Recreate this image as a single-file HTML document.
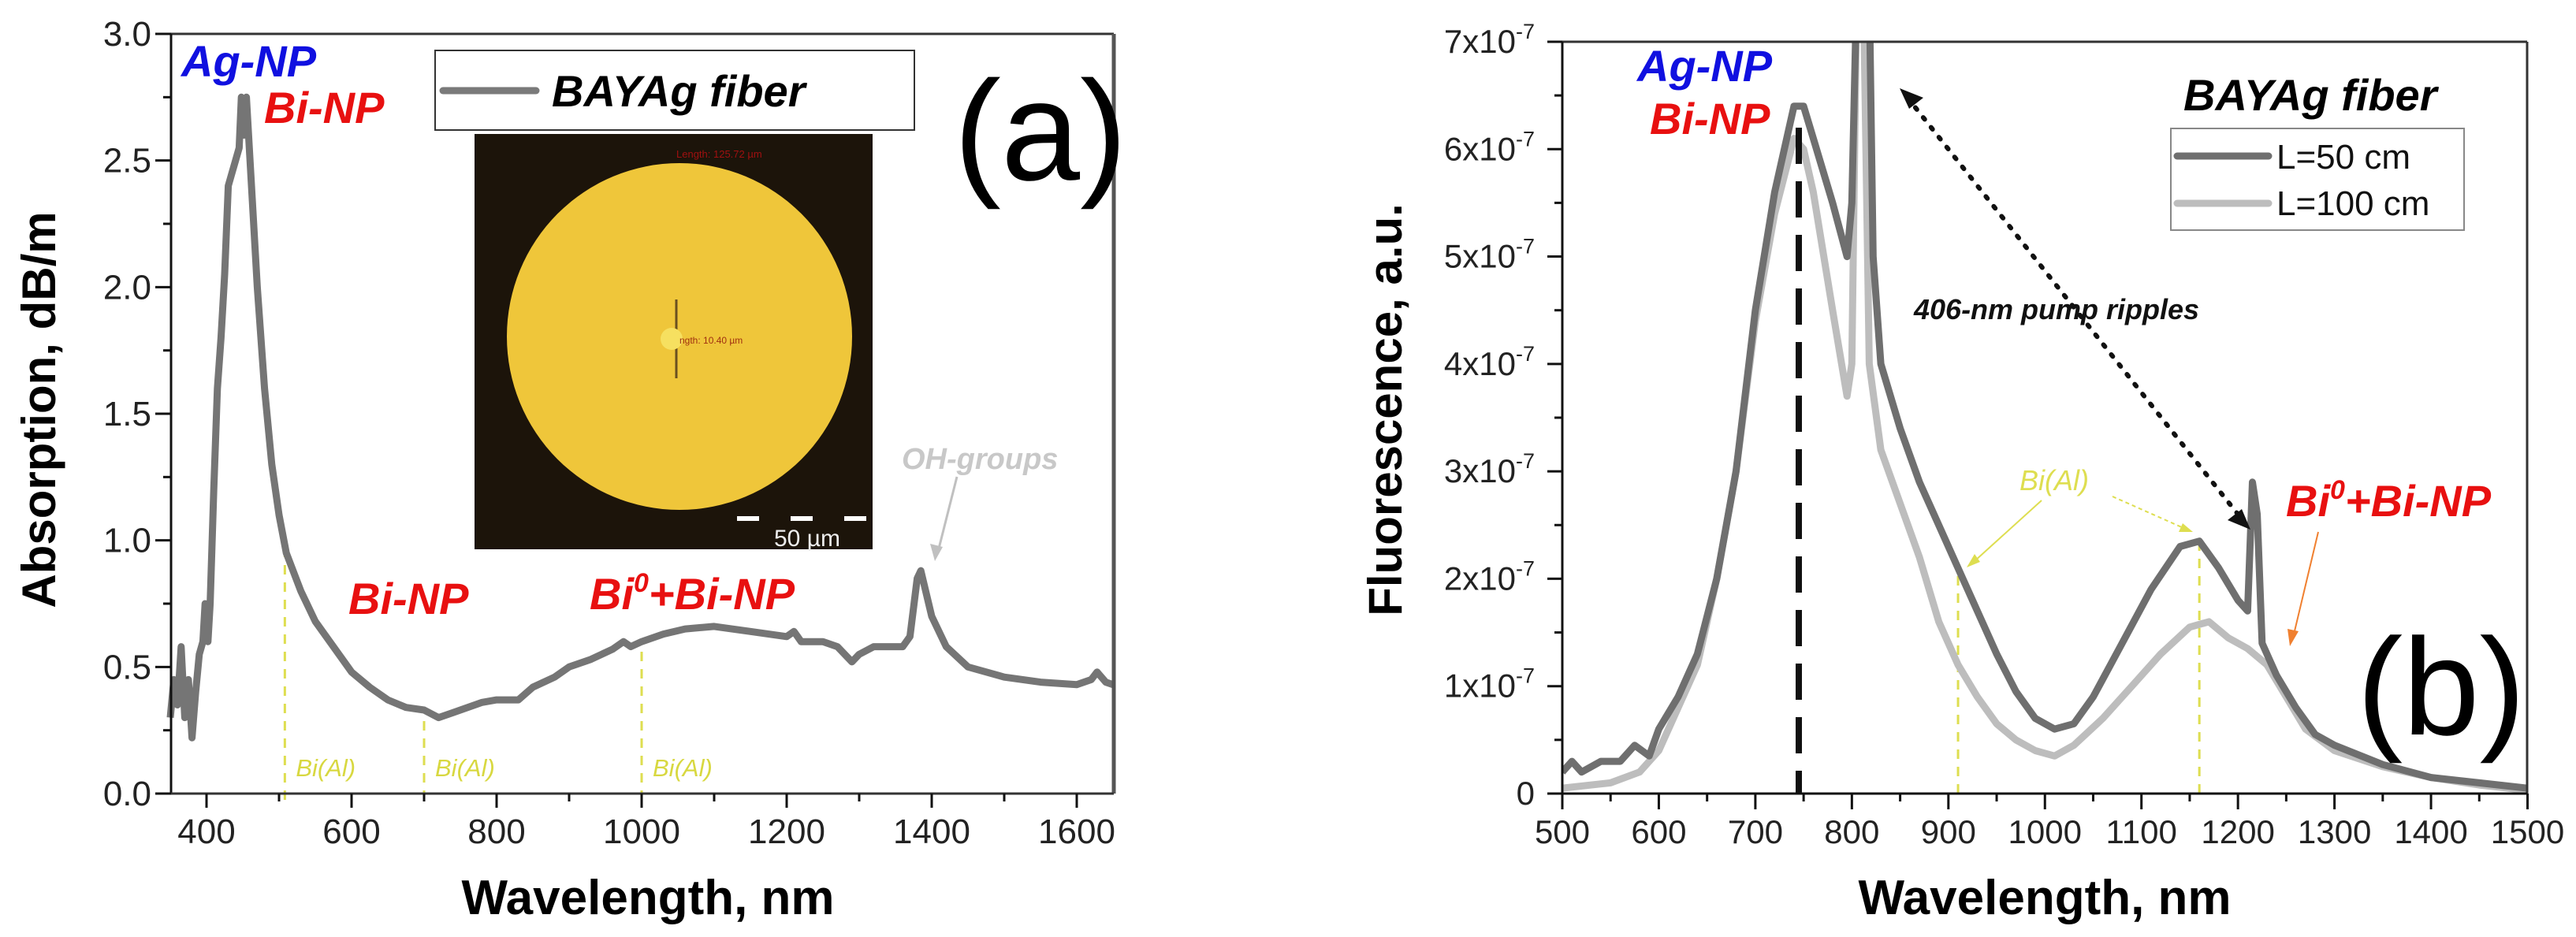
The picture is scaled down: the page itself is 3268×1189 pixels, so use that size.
<!DOCTYPE html>
<html><head><meta charset="utf-8"><style>
html,body{margin:0;padding:0;background:#fff}
svg{display:block}
text{font-family:"Liberation Sans",sans-serif}
</style></head><body>
<svg id="fig" width="3268" height="1189" viewBox="0 0 3268 1189" xmlns="http://www.w3.org/2000/svg">
<rect width="3268" height="1189" fill="#fff"/>
<g id="pa"></g>
<g id="pb"></g>
</svg>
<script>
// ---------- Panel (a) data ----------
const absWl = [350,355,360,365,370,375,380,385,390,395,398,402,405,410,415,420,425,430,435,440,445,448,452,455,460,470,480,490,500,510,530,550,575,600,625,650,675,700,720,740,760,780,800,830,850,880,900,930,960,975,985,1000,1030,1060,1100,1150,1200,1210,1220,1250,1270,1290,1300,1320,1360,1370,1380,1385,1390,1400,1420,1450,1500,1550,1600,1620,1628,1640,1650];
const absVal = [0.3,0.45,0.35,0.58,0.3,0.45,0.22,0.4,0.55,0.6,0.75,0.6,0.75,1.2,1.6,1.8,2.05,2.4,2.45,2.5,2.55,2.75,2.6,2.75,2.5,2.0,1.6,1.3,1.1,0.95,0.8,0.68,0.58,0.48,0.42,0.37,0.34,0.33,0.3,0.32,0.34,0.36,0.37,0.37,0.42,0.46,0.5,0.53,0.57,0.6,0.58,0.6,0.63,0.65,0.66,0.64,0.62,0.64,0.6,0.6,0.58,0.52,0.55,0.58,0.58,0.62,0.85,0.88,0.82,0.7,0.58,0.5,0.46,0.44,0.43,0.45,0.48,0.44,0.43];
const aXTicks = [400,600,800,1000,1200,1400,1600];
const aYTicks = [0,0.5,1.0,1.5,2.0,2.5,3.0];
const aYLabels = ["0.0","0.5","1.0","1.5","2.0","2.5","3.0"];
const aBiAl = [508,700,1000];

// ---------- Panel (b) data ----------
const flWl50 = [500,510,520,540,560,575,590,600,620,640,660,680,700,720,740,750,760,780,795,800,805,812,818,822,830,850,870,890,910,930,950,970,990,1010,1030,1050,1080,1110,1140,1160,1180,1200,1210,1215,1220,1225,1240,1260,1280,1300,1350,1400,1450,1500];
const fl50 = [0.2,0.3,0.2,0.3,0.3,0.45,0.35,0.6,0.9,1.3,2.0,3.0,4.5,5.6,6.4,6.4,6.1,5.5,5.0,5.5,7.5,7.5,7.5,5.0,4.0,3.4,2.9,2.5,2.1,1.7,1.3,0.95,0.7,0.6,0.65,0.9,1.4,1.9,2.3,2.35,2.1,1.8,1.7,2.9,2.6,1.4,1.1,0.8,0.55,0.45,0.27,0.15,0.1,0.05];
const flWl100 = [500,550,580,600,620,640,660,680,700,720,740,750,760,780,795,800,805,812,818,830,850,870,890,910,930,950,970,990,1010,1030,1060,1090,1120,1150,1170,1190,1210,1230,1250,1270,1300,1350,1400,1450,1500];
const fl100 = [0.05,0.1,0.2,0.4,0.8,1.2,2.0,3.0,4.4,5.4,6.1,6.0,5.6,4.5,3.7,4.0,7.5,7.5,4.0,3.2,2.7,2.2,1.6,1.2,0.9,0.65,0.5,0.4,0.35,0.45,0.7,1.0,1.3,1.55,1.6,1.45,1.35,1.2,0.9,0.6,0.4,0.25,0.15,0.08,0.03];
const bXTicks = [500,600,700,800,900,1000,1100,1200,1300,1400,1500];
const bYTicks = [0,1,2,3,4,5,6,7];
const bBiAl = [910,1160];

const NS="http://www.w3.org/2000/svg";
function mk(parent,tag,attrs,txt){const e=document.createElementNS(NS,tag);for(const k in attrs)e.setAttribute(k,attrs[k]);if(txt!==undefined)e.textContent=txt;parent.appendChild(e);return e;}

const aX = v => 262 + (v-400)*0.92;
const aY = v => 1007 - v*321.33;
const bX = v => 1982 + (v-500)*1.2245;
const bY = v => 1007 - v*136.29;
function interp(xs,ys,x){for(let i=0;i<xs.length-1;i++){if(x>=xs[i]&&x<=xs[i+1]){return ys[i]+(ys[i+1]-ys[i])*(x-xs[i])/(xs[i+1]-xs[i]);}}return ys[ys.length-1];}

// ===== Panel A =====
const pa=document.getElementById('pa');
aBiAl.forEach(w=>{
 const l=mk(pa,'line',{x1:aX(w),x2:aX(w),y1:1015,y2:aY(interp(absWl,absVal,w)),stroke:'#dede50','stroke-width':3,'stroke-dasharray':'12 10'});
 
 
 const t=mk(pa,'text',{x:aX(w)+14,y:985,'font-size':31,'font-style':'italic',fill:'#d8d840'},'Bi(Al)');
 
 
});
const ph=mk(pa,'g',{});


mk(ph,'rect',{x:602,y:170,width:505,height:527,fill:'#1c140a'});
mk(ph,'ellipse',{cx:862,cy:427,rx:219,ry:220,fill:'#efc63a'});
mk(ph,'line',{x1:858,y1:380,x2:858,y2:480,stroke:'#6a5020','stroke-width':3});
mk(ph,'circle',{cx:852,cy:430,r:14,fill:'#f6e060'});
mk(ph,'text',{x:862,y:436,'font-size':12,fill:'#a03010'},'ngth: 10.40 µm');
mk(ph,'text',{x:858,y:200,'font-size':13,fill:'#a01010'},'Length: 125.72 µm');
mk(ph,'line',{x1:935,y1:658,x2:1107,y2:658,stroke:'#fff','stroke-width':6,'stroke-dasharray':'28 40'});
mk(ph,'text',{x:982,y:693,'font-size':30,fill:'#eee'},'50 µm');
const lg=mk(pa,'g',{});


mk(lg,'rect',{x:552,y:64,width:608,height:101,fill:'#fff',stroke:'#333','stroke-width':2});
mk(lg,'line',{x1:562,y1:115,x2:680,y2:115,stroke:'#7a7a7a','stroke-width':9,'stroke-linecap':'round'});
mk(lg,'text',{x:700,y:135,'font-size':56,'font-weight':'bold','font-style':'italic',fill:'#000'},'BAYAg fiber');
let d='';absWl.forEach((w,i)=>{d+=(i?'L':'M')+aX(w).toFixed(1)+' '+aY(absVal[i]).toFixed(1);});
const ca=mk(pa,'path',{d:d,fill:'none',stroke:'#757575','stroke-width':9,'stroke-linejoin':'round'});


mk(pa,'line',{x1:217,y1:43,x2:1413,y2:43,stroke:'#333','stroke-width':3});
mk(pa,'line',{x1:1413,y1:43,x2:1413,y2:1007,stroke:'#555','stroke-width':5});
mk(pa,'line',{x1:217,y1:43,x2:217,y2:1007,stroke:'#111','stroke-width':3});
mk(pa,'line',{x1:197,y1:1007,x2:1413,y2:1007,stroke:'#333','stroke-width':3});
aXTicks.forEach(v=>{
 mk(pa,'line',{x1:aX(v),x2:aX(v),y1:1007,y2:1025,stroke:'#111','stroke-width':3});
 if(v+100<1650) mk(pa,'line',{x1:aX(v+100),x2:aX(v+100),y1:1007,y2:1017,stroke:'#111','stroke-width':3});
 const t=mk(pa,'text',{x:aX(v),y:1070,'font-size':44,'text-anchor':'middle',fill:'#222'},String(v));
 
 
});
aYTicks.forEach((v,i)=>{
 mk(pa,'line',{x1:197,x2:217,y1:aY(v),y2:aY(v),stroke:'#111','stroke-width':3});
 if(v<3) mk(pa,'line',{x1:207,x2:217,y1:aY(v+0.25),y2:aY(v+0.25),stroke:'#111','stroke-width':3});
 const t=mk(pa,'text',{x:192,y:aY(v)+15,'font-size':44,'text-anchor':'end',fill:'#222'},aYLabels[i]);
 
 
});
const labsA=[[230,97,'Ag-NP','#1010e0'],[335,156,'Bi-NP','#e81010'],[442,779,'Bi-NP','#e81010']];
labsA.forEach(l=>{const t=mk(pa,'text',{x:l[0],y:l[1],'font-size':56,'font-weight':'bold','font-style':'italic',fill:l[3]},l[2]);
 
 });
const b0=mk(pa,'text',{x:748,y:773,'font-size':56,'font-weight':'bold','font-style':'italic',fill:'#e81010'});


b0.innerHTML='Bi<tspan dy="-22" font-size="34">0</tspan><tspan dy="22">+Bi-NP</tspan>';
const oh=mk(pa,'text',{x:1144,y:595,'font-size':38,'font-weight':'bold','font-style':'italic',fill:'#c8c8c8'},'OH-groups');


mk(pa,'line',{x1:1214,y1:605,x2:1190,y2:700,stroke:'#c0c0c0','stroke-width':3});
mk(pa,'path',{d:'M1186 712 L1180 690 L1196 694 Z',fill:'#c0c0c0'});
const pla=mk(pa,'text',{x:1210,y:228,'font-size':180,fill:'#000'},'(a)');


const yta=mk(pa,'text',{x:0,y:0,'font-size':60,'font-weight':'bold','text-anchor':'middle',fill:'#000',transform:'translate(70,520) rotate(-90)'},'Absorption, dB/m');


const xta=mk(pa,'text',{x:822,y:1160,'font-size':62,'font-weight':'bold','text-anchor':'middle',fill:'#000'},'Wavelength, nm');



// ===== Panel B =====
const pb=document.getElementById('pb');
mk(pb,'clipPath',{id:'clipb'}).appendChild(document.createElementNS(NS,'rect'));
const cr=document.querySelector('#clipb rect');cr.setAttribute('x',1982);cr.setAttribute('y',53);cr.setAttribute('width',1224);cr.setAttribute('height',954);
bBiAl.forEach(w=>{
 const l=mk(pb,'line',{x1:bX(w),x2:bX(w),y1:1007,y2:bY(interp(flWl50,fl50,w)),stroke:'#dede50','stroke-width':3,'stroke-dasharray':'12 10'});
 
 
});
function series(xs,ys,col){
 let p='';xs.forEach((w,i)=>{p+=(i?'L':'M')+bX(w).toFixed(1)+' '+bY(ys[i]).toFixed(1);});
 return mk(pb,'path',{d:p,fill:'none',stroke:col,'stroke-width':9,'stroke-linejoin':'round','clip-path':'url(#clipb)'});
}
const s100=series(flWl100,fl100,'#bdbdbd');


const s50=series(flWl50,fl50,'#6f6f6f');


const pk=mk(pb,'line',{x1:bX(745),x2:bX(745),y1:bY(6.2),y2:1007,stroke:'#111','stroke-width':8,'stroke-dasharray':'46 22'});


mk(pb,'line',{x1:1982,y1:53,x2:3206,y2:53,stroke:'#333','stroke-width':3});
mk(pb,'line',{x1:3206,y1:53,x2:3206,y2:1007,stroke:'#333','stroke-width':3});
mk(pb,'line',{x1:1982,y1:53,x2:1982,y2:1007,stroke:'#111','stroke-width':3});
mk(pb,'line',{x1:1963,y1:1007,x2:3206,y2:1007,stroke:'#111','stroke-width':3});
bXTicks.forEach(v=>{
 mk(pb,'line',{x1:bX(v),x2:bX(v),y1:1007,y2:1027,stroke:'#111','stroke-width':3});
 if(v<1500) mk(pb,'line',{x1:bX(v+50),x2:bX(v+50),y1:1007,y2:1017,stroke:'#111','stroke-width':3});
 const t=mk(pb,'text',{x:bX(v),y:1070,'font-size':42,'text-anchor':'middle',fill:'#222'},String(v));
 
 
});
bYTicks.forEach(v=>{
 mk(pb,'line',{x1:1963,x2:1982,y1:bY(v),y2:bY(v),stroke:'#111','stroke-width':3});
 if(v<7) mk(pb,'line',{x1:1972,x2:1982,y1:bY(v+0.5),y2:bY(v+0.5),stroke:'#111','stroke-width':3});
 const t=mk(pb,'text',{x:1947,y:bY(v)+14,'font-size':42,'text-anchor':'end',fill:'#222'});
 
 
 if(v===0) t.textContent='0'; else t.innerHTML=v+'x10<tspan dy="-18" font-size="27">-7</tspan>';
});
const lab=(x,y,s,c)=>mk(pb,'text',{x:x,y:y,'font-size':56,'font-weight':'bold','font-style':'italic',fill:c},s);
const l1=lab(2077,103,'Ag-NP','#1010e0');
const l2=lab(2093,170,'Bi-NP','#e81010');
const l3=mk(pb,'text',{x:2900,y:655,'font-size':56,'font-weight':'bold','font-style':'italic',fill:'#e81010'});


l3.innerHTML='Bi<tspan dy="-22" font-size="34">0</tspan><tspan dy="22">+Bi-NP</tspan>';
mk(pb,'line',{x1:2941,y1:675,x2:2910,y2:805,stroke:'#f08030','stroke-width':2});
mk(pb,'path',{d:'M2905 820 L2902 798 L2916 801 Z',fill:'#f08030'});
const ba=mk(pb,'text',{x:2562,y:622,'font-size':36,'font-style':'italic',fill:'#dede50'},'Bi(Al)');


mk(pb,'line',{x1:2590,y1:635,x2:2505,y2:712,stroke:'#dede50','stroke-width':2});
mk(pb,'path',{d:'M2495 720 L2505 703 L2512 713 Z',fill:'#dede50'});
mk(pb,'line',{x1:2680,y1:630,x2:2770,y2:670,stroke:'#dede50','stroke-width':2,'stroke-dasharray':'5 4'});
mk(pb,'path',{d:'M2782 675 L2764 675 L2769 664 Z',fill:'#dede50'});
const da=mk(pb,'line',{x1:2420,y1:124,x2:2845,y2:660,stroke:'#111','stroke-width':6,'stroke-dasharray':'3 13','stroke-linecap':'round'});


mk(pb,'path',{d:'M2410 112 L2440 124 L2422 138 Z',fill:'#111'});
mk(pb,'path',{d:'M2855 672 L2826 660 L2844 646 Z',fill:'#111'});
const pr=mk(pb,'text',{x:2428,y:405,'font-size':36,'font-weight':'bold','font-style':'italic',fill:'#111'},'406-nm pump ripples');


const lb=mk(pb,'g',{});


mk(lb,'text',{x:2770,y:140,'font-size':56,'font-weight':'bold','font-style':'italic',fill:'#000'},'BAYAg fiber');
mk(lb,'rect',{x:2754,y:163,width:372,height:129,fill:'#fff',stroke:'#888','stroke-width':2});
mk(lb,'line',{x1:2762,y1:198,x2:2878,y2:198,stroke:'#6f6f6f','stroke-width':9,'stroke-linecap':'round'});
const le1=mk(lb,'text',{x:2888,y:214,'font-size':44,fill:'#111'},'L=50 cm');


mk(lb,'line',{x1:2762,y1:258,x2:2878,y2:258,stroke:'#bdbdbd','stroke-width':9,'stroke-linecap':'round'});
const le2=mk(lb,'text',{x:2888,y:273,'font-size':44,fill:'#111'},'L=100 cm');


const plb=mk(pb,'text',{x:2990,y:932,'font-size':175,fill:'#000'},'(b)');


const ytb=mk(pb,'text',{x:0,y:0,'font-size':60,'font-weight':'bold','text-anchor':'middle',fill:'#000',transform:'translate(1778,520) rotate(-90)'},'Fluorescence, a.u.');


const xtb=mk(pb,'text',{x:2594,y:1160,'font-size':62,'font-weight':'bold','text-anchor':'middle',fill:'#000'},'Wavelength, nm');


</script>
</body></html>
